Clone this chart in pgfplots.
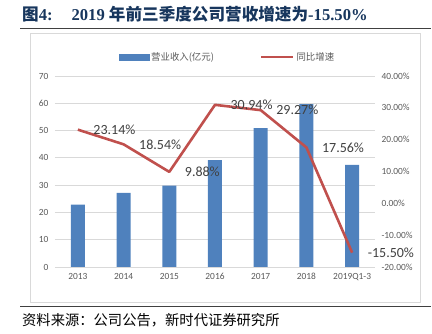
\documentclass[border=0pt]{standalone}
\usepackage{pgfplots}
\pgfplotsset{compat=1.18}
\usepackage{fontspec}
\setmainfont{Carlito}
\newfontfamily\cjk{Noto Sans CJK SC}
\newfontfamily\serifb{Liberation Serif}
\definecolor{barblue}{RGB}{79,129,189}
\definecolor{linered}{RGB}{192,80,77}
\definecolor{ticktxt}{RGB}{89,89,89}
\definecolor{gridc}{RGB}{217,217,217}
\definecolor{titleblue}{RGB}{23,54,93}
\definecolor{lbl}{RGB}{64,64,64}
\begin{document}
\begin{tikzpicture}[x=1pt,y=1pt]
\useasboundingbox (0,0) rectangle (432,334);
\draw[gridc, line width=0.8pt] (30,32) rectangle (420,301);
\draw[black!75, line width=1pt] (20,305) -- (431,305);
\draw[black!75, line width=1pt] (20,27) -- (431,27);
\node[anchor=base west, inner sep=0, text=titleblue, font=\fontsize{16.6}{16.6}\selectfont\bfseries] at (22,313) {{\cjk 图}{\serifb 4:}\hspace{19pt}{\serifb 2019 }{\cjk 年前三季度公司营收增速为}{\serifb -15.50\%}};
\node[anchor=base west, inner sep=0, font=\fontsize{14.3}{14.3}\selectfont\cjk] at (22,8) {资料来源：公司公告，新时代证券研究所};

\begin{axis}[
  at={(55pt,67pt)}, anchor=south west, scale only axis,
  width=320pt, height=191pt,
  xmin=-0.5, xmax=6.5, ymin=0, ymax=70,
  xtick={0,...,6},
  xticklabels={2013,2014,2015,2016,2017,2018,2019Q1-3},
  ytick={0,10,...,70},
  ymajorgrids, grid style={gridc, line width=0.8pt},
  axis line style={draw=none},
  major tick length=0pt,
  tick label style={font=\fontsize{9.4}{10}\selectfont, text=ticktxt},
  yticklabel style={xshift=-3pt},
  xticklabel style={yshift=-3pt},
  /pgf/number format/assume math mode=true,
  clip=false,
]
\addplot[ybar, bar width=14pt, fill=barblue, draw=none] coordinates {
(0,22.9) (1,27.2) (2,29.8) (3,39.2) (4,50.9) (5,59.7) (6,37.4)};
\end{axis}

\begin{axis}[
  at={(55pt,67pt)}, anchor=south west, scale only axis,
  width=320pt, height=191pt,
  xmin=-0.5, xmax=6.5, ymin=-20, ymax=40,
  axis x line=none,
  axis y line*=right,
  axis line style={draw=none},
  major tick length=0pt,
  ytick={-20,-10,...,40},
  yticklabel={\pgfmathprintnumber[fixed,fixed zerofill,precision=2]{\tick}\%},
  yticklabel style={xshift=3pt},
  tick label style={font=\fontsize{9.4}{10}\selectfont, text=ticktxt},
  /pgf/number format/assume math mode=true,
  clip=false,
  legend style={at={(0.539,1.0995)}, anchor=center, draw=none, fill=none,
    legend columns=2, font=\fontsize{9.4}{10}\selectfont\cjk, text=ticktxt,
    /tikz/every even column/.append style={column sep=44pt},
    inner sep=0pt},
  legend cell align=left,
]
\addlegendimage{legend image code/.code={\fill[barblue] (0pt,-3pt) rectangle (30pt,3pt);}}
\addlegendentry{营业收入(亿元)}
\addplot[linered, line width=2.6pt, line join=round,
  point meta=explicit symbolic,
  nodes near coords,
  every node near coord/.append style={anchor=west, xshift=11pt, yshift=0pt,
     font=\fontsize{14}{14}\selectfont, text=lbl},
  legend image code/.code={\draw[linered, line width=2.6pt] (0pt,0pt) -- (32pt,0pt);}
] coordinates {
(0,23.14) [23.14\%]
(1,18.54) [18.54\%]
(2,9.88) [9.88\%]
(3,30.94) [30.94\%]
(4,29.27) [29.27\%]
(5,17.56) [17.56\%]
(6,-15.50) [-15.50\%]};
\addlegendentry{同比增速}
\end{axis}
\end{tikzpicture}
\end{document}
